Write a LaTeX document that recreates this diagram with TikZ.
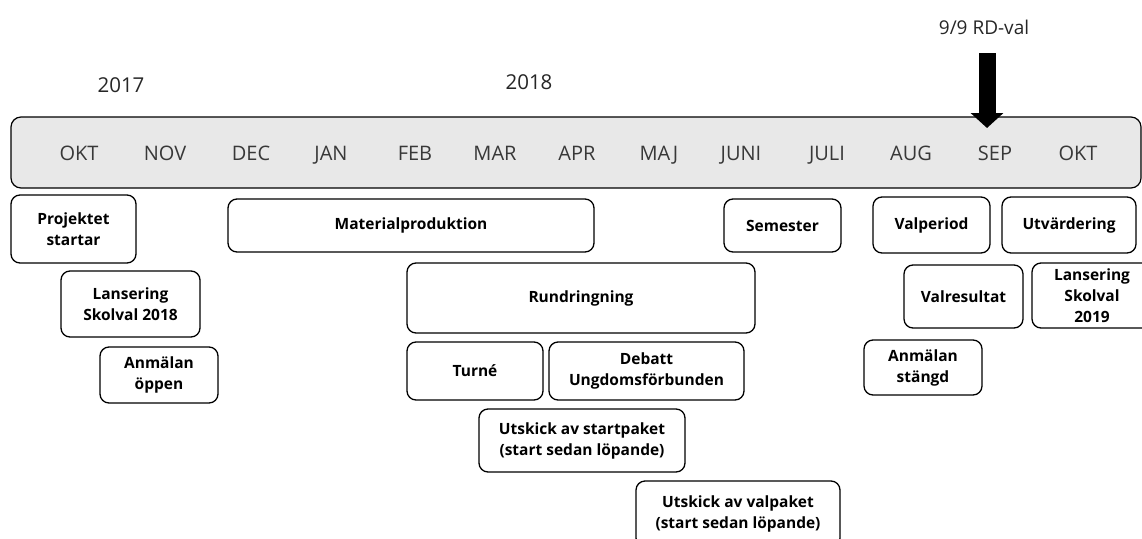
\documentclass[tikz,border=0pt]{standalone}
\usepackage{fontspec}
\setmainfont{Open Sans}
\usetikzlibrary{arrows.meta}
\begin{document}
\begin{tikzpicture}[x=1pt,y=-1pt,
  ev/.style={draw=black, line width=1.3pt, rounded corners=9pt, fill=white, inner sep=0pt, align=center,
    font=\bfseries\fontsize{15.5}{21}\selectfont},
  month/.style={text=black!78, font=\fontsize{20}{24}\selectfont, inner sep=0pt, anchor=base},
  yearlbl/.style={text=black!85, font=\fontsize{20.5}{24}\selectfont, inner sep=0pt, anchor=base}]
\useasboundingbox (0,0) rectangle (1142,538);
\clip (0,0) rectangle (1142,538);
% band
\draw[line width=1.2pt, rounded corners=10pt, fill=black!9] (11,117) rectangle (1141,188);
% months
\node[month] (m1) at (79,160) {OKT};
\node[month] (m2) at (165,160) {NOV};
\node[month] (m3) at (251,160) {DEC};
\node[month] (m4) at (331,160) {JAN};
\node[month] (m5) at (415,160) {FEB};
\node[month] (m6) at (495,160) {MAR};
\node[month] (m7) at (577,160) {APR};
\node[month] (m8) at (659,160) {MAJ};
\node[month] (m9) at (741,160) {JUNI};
\node[month] (m10) at (827,160) {JULI};
\node[month] (m11) at (911,160) {AUG};
\node[month] (m12) at (995,160) {SEP};
\node[month] (m13) at (1078,160) {OKT};
% years
\node[yearlbl] (y17) at (121,92) {2017};
\node[yearlbl] (y18) at (529,89) {2018};
\node[yearlbl, font=\fontsize{19}{22}\selectfont] (rd) at (984,34) {9/9 RD-val};
% arrow
\coordinate (rdtop) at (987,53);
\coordinate (rdtip) at (987,128);
\draw[line width=17pt, -{Triangle[width=32pt,length=15pt]}] (rdtop) -- (rdtip);
% events
\node[ev, minimum width=125pt, minimum height=68pt] (proj) at (73.5,229) {Projektet\\startar};
\node[ev, minimum width=139pt, minimum height=66pt] (lans18) at (130.5,304) {Lansering\\Skolval 2018};
\node[ev, minimum width=118pt, minimum height=56pt] (anm) at (159,375) {Anmälan\\öppen};
\node[ev, minimum width=366pt, minimum height=53pt] (mat) at (411,225.5) {Materialproduktion};
\node[ev, minimum width=117pt, minimum height=53pt] (sem) at (782.5,225.5) {Semester};
\node[ev, minimum width=348pt, minimum height=70pt] (rund) at (581,298) {Rundringning};
\node[ev, minimum width=136pt, minimum height=58pt] (turne) at (475,371) {Turné};
\node[ev, minimum width=195pt, minimum height=58pt] (debatt) at (646.5,371) {Debatt\\Ungdomsförbunden};
\node[ev, minimum width=206pt, minimum height=63pt] (utsk1) at (582,440.5) {Utskick av startpaket\\(start sedan löpande)};
\node[ev, minimum width=204pt, minimum height=66pt] (utsk2) at (738,514) {Utskick av valpaket\\(start sedan löpande)};
\node[ev, minimum width=117pt, minimum height=56pt] (valp) at (931.5,225) {Valperiod};
\node[ev, minimum width=134pt, minimum height=56pt] (utv) at (1069,225) {Utvärdering};
\node[ev, minimum width=119pt, minimum height=63pt] (valres) at (963.5,296.5) {Valresultat};
\node[ev, minimum width=120pt, minimum height=65pt] (lans19) at (1092,295.5) {Lansering\\Skolval\\2019};
\node[ev, minimum width=118pt, minimum height=55pt] (anmst) at (923,367.5) {Anmälan\\stängd};
\end{tikzpicture}
\end{document}
